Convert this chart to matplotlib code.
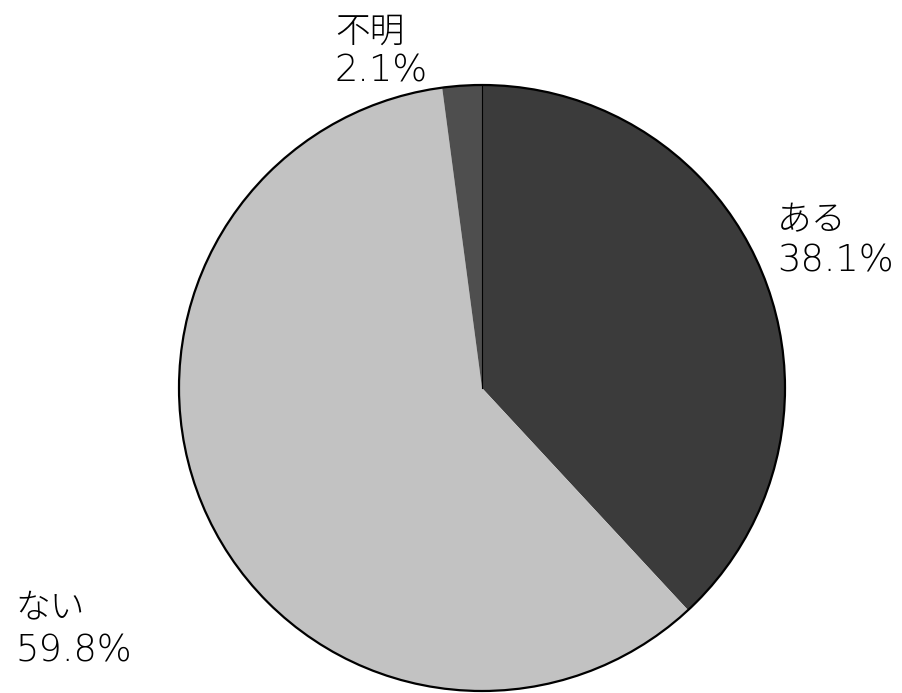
import matplotlib
matplotlib.use("Agg")
import matplotlib.pyplot as plt
import numpy as np

plt.rcParams['font.family'] = ['DejaVu Sans', 'Noto Sans CJK JP']

# 回答の内訳（時計回り、12時の位置から）
labels = ["ある", "ない", "不明"]
shares = [38.1, 59.8, 2.1]
colors = ["#3b3b3b", "#c2c2c2", "#4e4e4e"]

W, H = 903, 693
fig = plt.figure(figsize=(W / 100, H / 100), dpi=100)
ax = fig.add_axes([0, 0, 1, 1])

cx, cy, r = 482, H - 388, 303
wedges, _ = ax.pie(shares, colors=colors, startangle=90, counterclock=False,
                   center=(cx, cy), radius=r, frame=True,
                   wedgeprops=dict(linewidth=0))
ax.set_xlim(0, W)
ax.set_ylim(0, H)
ax.set_aspect("equal")
ax.axis("off")

# 外周と「不明」「ある」の境界線
circle = plt.Circle((cx, cy), r, fill=False, edgecolor="black", linewidth=1.6)
ax.add_patch(circle)
ang = np.deg2rad(wedges[0].theta2)
ax.plot([cx, cx + r * np.cos(ang)], [cy, cy + r * np.sin(ang)],
        color="black", linewidth=0.8)

# ラベル（名前と割合）
positions = {"ある": (777, 230, 272), "ない": (15, 617, 662), "不明": (335, 42, 82)}
for name, val in zip(labels, shares):
    x, y1, y2 = positions[name]
    ax.text(x, H - y1, name, fontsize=25, ha="left", va="baseline",
            family=["Noto Sans CJK JP"], fontweight="light")
    ax.text(x, H - y2, f"{val}%", fontsize=26.5, ha="left", va="baseline",
            fontweight="light")

fig.savefig("out.png", dpi=100, facecolor="white")
